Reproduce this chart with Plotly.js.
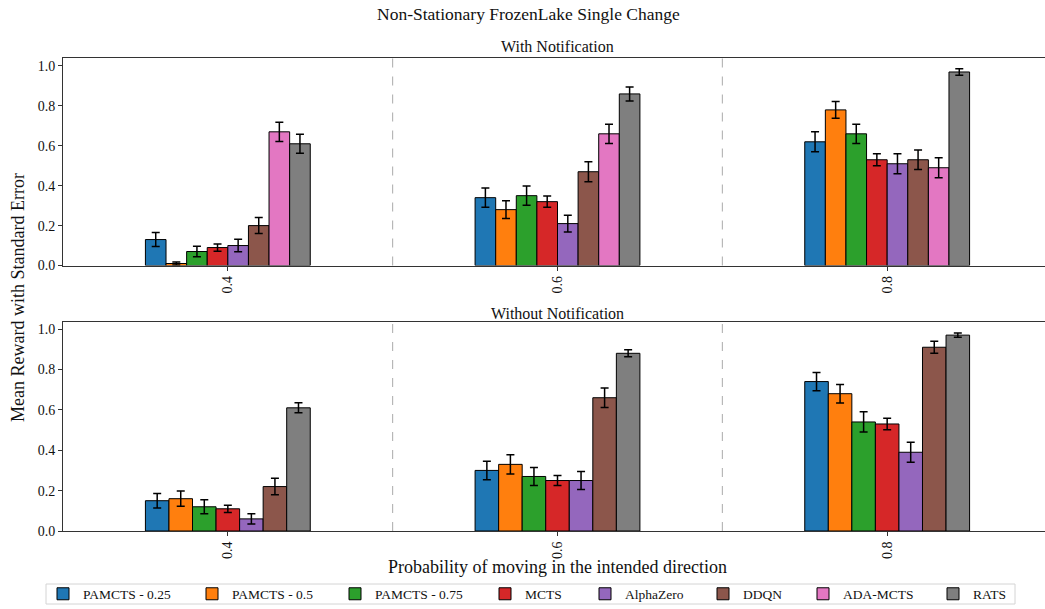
<!DOCTYPE html>
<html>
<head>
<meta charset="utf-8">
<script src="https://cdn.plot.ly/plotly-3.0.1.min.js"></script>
<style>
html,body{margin:0;padding:0;overflow:hidden;background:#fff;}
#chart{width:1060px;height:609px;}
</style>
</head>
<body>
<div id="chart"></div>
<script>
// ---- Data ----
const categories = ['0.4', '0.6', '0.8'];
const seriesNames = ['PAMCTS - 0.25', 'PAMCTS - 0.5', 'PAMCTS - 0.75', 'MCTS', 'AlphaZero', 'DDQN', 'ADA-MCTS', 'RATS'];
const seriesColors = ['#1f77b4', '#ff7f0e', '#2ca02c', '#d62728', '#9467bd', '#8c564b', '#e377c2', '#7f7f7f'];

// With Notification (top panel): means and standard errors per series
const withPAMCTS025 = [0.13, 0.34, 0.62];
const withPAMCTS025Err = [0.035, 0.048, 0.05];
const withPAMCTS05 = [0.01, 0.28, 0.78];
const withPAMCTS05Err = [0.008, 0.045, 0.042];
const withPAMCTS075 = [0.07, 0.35, 0.66];
const withPAMCTS075Err = [0.026, 0.048, 0.048];
const withMCTS = [0.09, 0.32, 0.53];
const withMCTSErr = [0.018, 0.028, 0.03];
const withAlphaZero = [0.10, 0.21, 0.51];
const withAlphaZeroErr = [0.031, 0.042, 0.05];
const withDDQN = [0.20, 0.47, 0.53];
const withDDQNErr = [0.04, 0.05, 0.049];
const withADAMCTS = [0.67, 0.66, 0.49];
const withADAMCTSErr = [0.048, 0.048, 0.05];
const withRATS = [0.61, 0.86, 0.97];
const withRATSErr = [0.048, 0.035, 0.016];

// Without Notification (bottom panel): no ADA-MCTS
const withoutPAMCTS025 = [0.15, 0.30, 0.74];
const withoutPAMCTS025Err = [0.036, 0.046, 0.045];
const withoutPAMCTS05 = [0.16, 0.33, 0.68];
const withoutPAMCTS05Err = [0.038, 0.048, 0.046];
const withoutPAMCTS075 = [0.12, 0.27, 0.54];
const withoutPAMCTS075Err = [0.035, 0.045, 0.05];
const withoutMCTS = [0.11, 0.25, 0.53];
const withoutMCTSErr = [0.018, 0.025, 0.028];
const withoutAlphaZero = [0.06, 0.25, 0.39];
const withoutAlphaZeroErr = [0.025, 0.045, 0.049];
const withoutDDQN = [0.22, 0.66, 0.91];
const withoutDDQNErr = [0.041, 0.048, 0.03];
const withoutRATS = [0.61, 0.88, 0.97];
const withoutRATSErr = [0.025, 0.017, 0.01];

const yTickVals = [0, 0.2, 0.4, 0.6, 0.8, 1.0];
const yTickText = ['0.0', '0.2', '0.4', '0.6', '0.8', '1.0'];

// ---- Build traces ----
const topSeries = [
  [withPAMCTS025, withPAMCTS025Err], [withPAMCTS05, withPAMCTS05Err], [withPAMCTS075, withPAMCTS075Err],
  [withMCTS, withMCTSErr], [withAlphaZero, withAlphaZeroErr], [withDDQN, withDDQNErr],
  [withADAMCTS, withADAMCTSErr], [withRATS, withRATSErr]
];
const bottomSeries = [
  [withoutPAMCTS025, withoutPAMCTS025Err], [withoutPAMCTS05, withoutPAMCTS05Err], [withoutPAMCTS075, withoutPAMCTS075Err],
  [withoutMCTS, withoutMCTSErr], [withoutAlphaZero, withoutAlphaZeroErr], [withoutDDQN, withoutDDQNErr],
  null, [withoutRATS, withoutRATSErr]
];

const FONT = 'Liberation Serif, Times New Roman, serif';
const W = 1060, ML = 63, MR = 8, MT = 58, MB = 78, H = 609;
const PW = W - ML - MR, PH = H - MT - MB;
const px2x = p => (p - ML) / PW;
const py2y = p => (H - MB - p) / PH;

const legendName = i => (i === 0 ? 'legend' : 'legend' + (i + 1));

const traces = [];
function mk(i, vals, errs, xa, ya, legend) {
  return {
    type: 'bar', name: seriesNames[i], x: categories, y: vals,
    xaxis: xa, yaxis: ya, showlegend: legend, legendgroup: seriesNames[i], legend: legendName(i),
    marker: {color: seriesColors[i], line: {color: '#000', width: 1}},
    error_y: {type: 'data', array: errs, visible: true, color: '#000', thickness: 1.5, width: 4},
    hoverinfo: 'skip'
  };
}
topSeries.forEach((s, i) => traces.push(mk(i, s[0], s[1], 'x', 'y', true)));
bottomSeries.forEach((s, i) => { if (s) traces.push(mk(i, s[0], s[1], 'x2', 'y2', false)); });

const axisCommon = {
  showline: true, mirror: true, linecolor: '#333', linewidth: 1,
  ticks: 'outside', ticklen: 4, tickcolor: '#333', showgrid: false, zeroline: false,
  tickfont: {family: FONT, size: 14, color: '#111'}
};

const shapes = [];
['x', 'x2'].forEach((xr, k) => {
  [0.5, 1.5].forEach(v => shapes.push({
    type: 'line', xref: xr, yref: (k === 0 ? 'y domain' : 'y2 domain'),
    x0: v, x1: v, y0: 0, y1: 1, line: {color: '#aaa', width: 1, dash: 'dash'}, layer: 'below'
  }));
});
// legend frame
shapes.push({type: 'rect', xref: 'paper', yref: 'paper', x0: px2x(46), x1: px2x(1015), y0: py2y(604), y1: py2y(584),
  line: {color: '#d4d4d4', width: 1}, fillcolor: 'rgba(255,255,255,0)'});

const layout = {
  width: W, height: H,
  margin: {l: ML, r: MR, t: MT, b: MB, autoexpand: false},
  paper_bgcolor: '#fff', plot_bgcolor: '#fff',
  barmode: 'group', bargap: 0.5, bargroupgap: 0,
  font: {family: FONT, color: '#111'},
  xaxis: Object.assign({}, axisCommon, {domain: [0, 1], anchor: 'y', type: 'category', range: [-0.5, 2.5], tickangle: -90}),
  yaxis: Object.assign({}, axisCommon, {domain: [py2y(265.5), 1], anchor: 'x', range: [0, 1.04], tickvals: yTickVals, ticktext: yTickText}),
  xaxis2: Object.assign({}, axisCommon, {domain: [0, 1], anchor: 'y2', type: 'category', range: [-0.5, 2.5], tickangle: -90}),
  yaxis2: Object.assign({}, axisCommon, {domain: [0, py2y(322)], anchor: 'x2', range: [0, 1.035], tickvals: yTickVals, ticktext: yTickText}),
  shapes: shapes,
  annotations: [
    {text: 'Non-Stationary FrozenLake Single Change', xref: 'paper', yref: 'paper', x: px2x(528), y: py2y(14),
     xanchor: 'center', yanchor: 'middle', showarrow: false, font: {family: FONT, size: 17.5, color: '#111'}},
    {text: 'With Notification', xref: 'paper', yref: 'paper', x: px2x(557.5), y: py2y(47),
     xanchor: 'center', yanchor: 'middle', showarrow: false, font: {family: FONT, size: 16, color: '#111'}},
    {text: 'Without Notification', xref: 'paper', yref: 'paper', x: px2x(557.5), y: py2y(313),
     xanchor: 'center', yanchor: 'middle', showarrow: false, font: {family: FONT, size: 16, color: '#111'}},
    {text: 'Probability of moving in the intended direction', xref: 'paper', yref: 'paper', x: px2x(557), y: py2y(567),
     xanchor: 'center', yanchor: 'middle', showarrow: false, font: {family: FONT, size: 18, color: '#111'}},
    {text: 'Mean Reward with Standard Error', xref: 'paper', yref: 'paper', x: px2x(18), y: py2y(298), textangle: -90,
     xanchor: 'center', yanchor: 'middle', showarrow: false, font: {family: FONT, size: 18, color: '#111'}}
  ]
};

// one legend per series so entries sit at the reference spacing
const swatchCenters = [64, 213, 356, 506, 606, 724, 824, 954];
swatchCenters.forEach((c, i) => {
  layout[legendName(i)] = {
    orientation: 'h', x: px2x(c - 21), xanchor: 'left', y: py2y(594), yanchor: 'middle',
    borderwidth: 0, bgcolor: 'rgba(255,255,255,0)',
    font: {family: FONT, size: 13.5, color: '#111'}, itemwidth: 30
  };
});

Plotly.newPlot('chart', traces, layout, {displayModeBar: false, staticPlot: true});
</script>
</body>
</html>
